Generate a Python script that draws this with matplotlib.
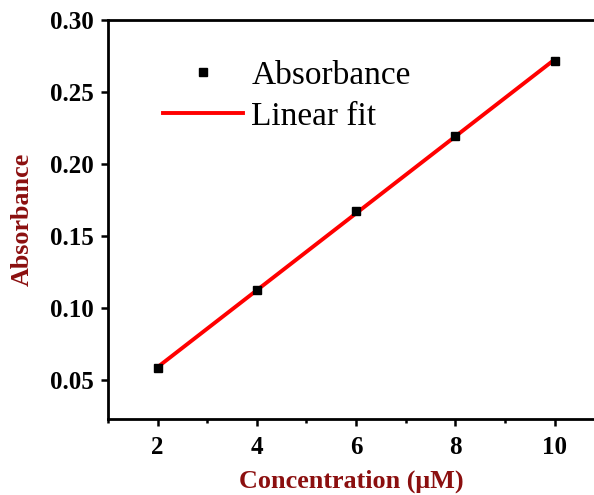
import numpy as np
import matplotlib
matplotlib.use("Agg")
import matplotlib.pyplot as plt
from matplotlib.ticker import MultipleLocator

# Calibration data
concentration = [2, 4, 6, 8, 10]          # µM
absorbance = [0.0581, 0.1125, 0.1674, 0.2194, 0.2715]

x_ticks = [2, 4, 6, 8, 10]
y_ticks = [0.05, 0.10, 0.15, 0.20, 0.25, 0.30]

plt.rcParams['font.family'] = ['Liberation Serif', 'DejaVu Serif']
label_color = '#8b0f0f'

fig = plt.figure(figsize=(5.94, 4.95), dpi=100)
ax = fig.add_axes([108 / 594, 1 - 419 / 495, 1 - 108 / 594 + 0.002, (419 - 20) / 495])

# Least-squares line through the measured points
slope, intercept = np.polyfit(concentration, absorbance, 1)
xfit = np.array([concentration[0], concentration[-1]])
ax.plot(xfit, slope * xfit + intercept, color='#ff0000', lw=2.8, label='Linear fit', zorder=2)
ax.plot(concentration, absorbance, ls='none', marker='s', ms=5.5, color='black',
        label='Absorbance', zorder=3)

ax.set_xlim(1.0, 10.82)
ax.set_ylim(0.023, 0.30)
ax.set_xticks(x_ticks)
ax.set_yticks(y_ticks)
ax.set_yticklabels([f'{v:.2f}' for v in y_ticks])
ax.xaxis.set_minor_locator(MultipleLocator(1))

for s in ['left', 'bottom', 'top']:
    ax.spines[s].set_linewidth(2.0)
ax.spines['right'].set_visible(False)

ax.tick_params(axis='both', which='major', direction='out', length=5, width=1.8,
               labelsize=18, pad=5)
ax.tick_params(axis='x', which='minor', direction='out', length=3, width=1.8)
ax.tick_params(axis='x', which='major', pad=7)
for lbl in ax.get_xticklabels() + ax.get_yticklabels():
    lbl.set_fontweight('bold')

ax.set_xlabel('Concentration (μM)', fontsize=18.8, fontweight='bold', color=label_color, labelpad=8)
ax.set_ylabel('Absorbance', fontsize=18.8, fontweight='bold', color=label_color, labelpad=12)

handles, labels = ax.get_legend_handles_labels()
leg = ax.legend(handles[::-1], labels[::-1], loc='upper left',
                bbox_to_anchor=(163 / 594, 1 - 60 / 495), bbox_transform=fig.transFigure,
                frameon=False, fontsize=24, handlelength=2.4, handletextpad=0.25,
                labelspacing=0.33, borderpad=0, borderaxespad=0)

fig.savefig('out.png', dpi=100)
